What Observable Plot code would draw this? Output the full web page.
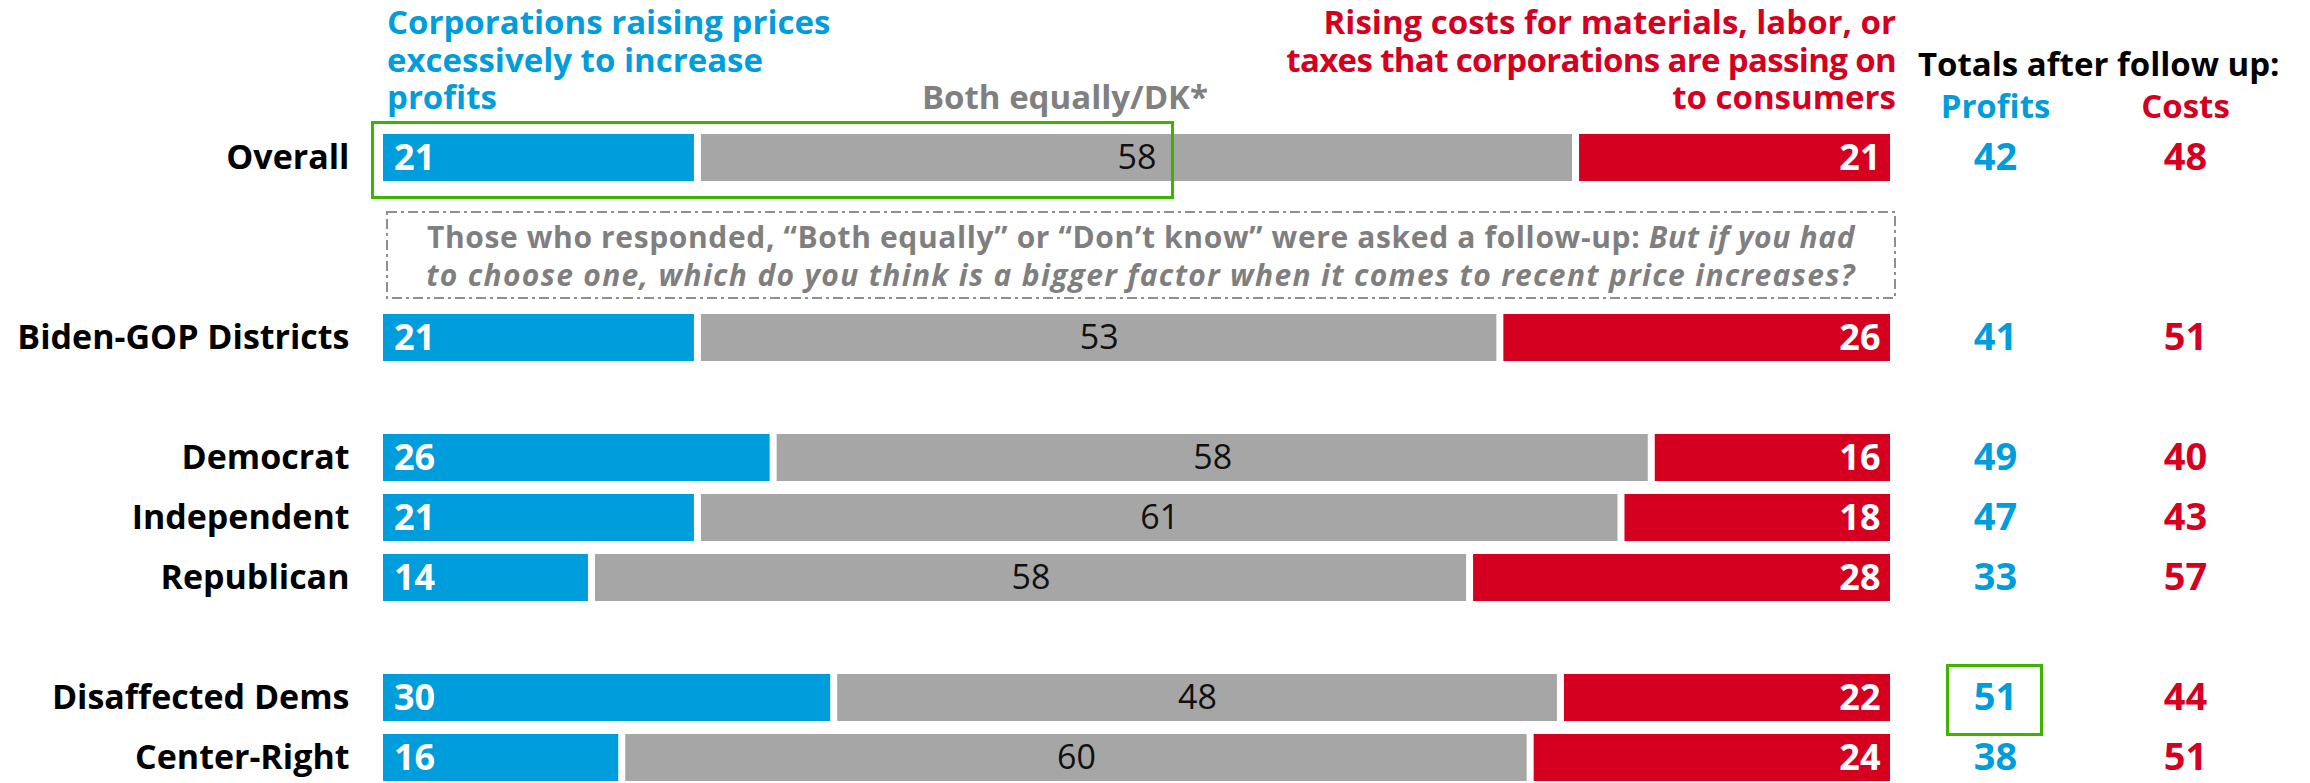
<!DOCTYPE html>
<html>
<head>
<meta charset="utf-8">
<script src="https://cdn.jsdelivr.net/npm/d3@7"></script>
<script src="https://cdn.jsdelivr.net/npm/@observablehq/plot@0.6"></script>
<style>
  body { margin: 0; background: #fff; }
  #wrap { position: relative; width: 2310px; height: 783px; overflow: hidden; font-family: "Open Sans", sans-serif; }
  .hdr { position: absolute; font-weight: 700; font-size: 33px; line-height: 37.5px; white-space: nowrap; }
  .gbox { position: absolute; box-sizing: border-box; border: 3px solid #3cb400; }
  #note { position: absolute; left: 386px; top: 211px; width: 1510px; height: 88px; }
  #note svg { position: absolute; left: 0; top: 0; }
  #noteText { position: absolute; left: 0; top: 7px; width: 1510px; text-align: center; color: #7f7f7f; font-weight: 700; font-size: 30px; line-height: 38px; white-space: nowrap; }
  #p1, #p2 { position: absolute; top: 0; }
  #p1 { left: 0; }
  #p2 { left: 1900px; }
</style>
</head>
<body>
<div id="wrap">
  <div id="p1"></div>
  <div id="p2"></div>
  <div class="hdr" style="left:387px; top:3px; color:#009ddc;">Corporations raising prices<br>excessively to increase<br>profits</div>
  <div class="hdr" style="left:1146px; width:750px; top:3px; text-align:right; color:#d5001f;">Rising costs for materials, labor, or<br><span style="letter-spacing:-0.65px">taxes that corporations are passing on</span><br>to consumers</div>
  <div class="hdr" style="left:708px; width:500px; top:78px; text-align:right; color:#808080;">Both equally/DK*</div>
  <div class="hdr" style="left:1918px; top:45px; color:#000;">Totals after follow up:</div>
  <div id="note">
    <svg width="1510" height="88"><rect x="1" y="1" width="1508" height="86" fill="none" stroke="#8f8f8f" stroke-width="2" stroke-dasharray="10 4 3 4"></rect></svg>
    <div id="noteText"><div style="letter-spacing:0.63px">Those who responded, “Both equally” or “Don’t know” were asked a follow-up: <i>But if you had</i></div><div style="letter-spacing:1.3px"><i>to choose one, which do you think is a bigger factor when it comes to recent price increases?</i></div></div>
  </div>
  <div class="gbox" style="left:371px; top:121px; width:803px; height:78px;"></div>
  <div class="gbox" style="left:1946px; top:664px; width:97px; height:72px;"></div>
</div>
<script>
// ---- data ----
const groups = ["Overall", "Biden-GOP Districts", "Democrat", "Independent", "Republican", "Disaffected Dems", "Center-Right"];
const profits = [21, 21, 26, 21, 14, 30, 16];
const both = [58, 53, 58, 61, 58, 48, 60];
const costs = [21, 26, 16, 18, 28, 22, 24];
const totalProfits = [42, 41, 49, 47, 33, 51, 38];
const totalCosts = [48, 51, 40, 43, 57, 44, 51];
const slots = ["Overall", "gap1", "gap2", "Biden-GOP Districts", "gap3", "Democrat", "Independent", "Republican", "gap4", "Disaffected Dems", "Center-Right"];
const keys = ["profits", "both", "costs"];
const totalCols = ["Profits", "Costs"];

const BLUE = "#009ddc", RED = "#d5001f", GRAY = "#a6a6a6";

const rows = groups.map((g, i) => ({group: g, profits: profits[i], both: both[i], costs: costs[i], tp: totalProfits[i], tc: totalCosts[i]}));
const long = rows.flatMap(r => keys.map(k => ({group: r.group, key: k, value: r[k]})));
const totalsLong = rows.flatMap(r => [
  {group: r.group, col: "Profits", value: r.tp},
  {group: r.group, col: "Costs", value: r.tc}
]);

const yScale = {domain: slots, paddingInner: 0.225, paddingOuter: 0.11, axis: null};

const p1 = Plot.plot({
  width: 1900, height: 791,
  marginLeft: 379.5, marginRight: 6.5, marginTop: 123.3, marginBottom: 0,
  x: {domain: [0, 100], axis: null},
  y: yScale,
  color: {domain: keys, range: [BLUE, GRAY, RED]},
  style: {fontFamily: "Open Sans", background: "transparent", overflow: "visible"},
  marks: [
    Plot.barX(long, {x: "value", y: "group", fill: "key", order: keys, insetLeft: 3.5, insetRight: 3.5}),
    Plot.axisY(groups, {tickSize: 0, tickPadding: 30.5, fontSize: 34, fontWeight: 700, fill: "#000", label: null}),
    Plot.text(rows, {y: "group", text: "profits", frameAnchor: "left", textAnchor: "start", dx: 14, fill: "#fff", fontSize: 36, fontWeight: 700}),
    Plot.text(rows, {y: "group", text: "costs", frameAnchor: "right", textAnchor: "end", dx: -13.5, fill: "#fff", fontSize: 36, fontWeight: 700}),
    Plot.text(long, Plot.stackX({x: "value", y: "group", z: "key", order: keys,
      text: d => d.key === "both" ? String(d.value) : "", fill: "#111", fontSize: 34, fontWeight: 400}))
  ]
});
document.getElementById("p1").appendChild(p1);

const p2 = Plot.plot({
  width: 410, height: 791,
  marginLeft: 0, marginRight: 30, marginTop: 123.3, marginBottom: 0,
  x: {domain: totalCols, type: "point", padding: 0.5, axis: null},
  y: yScale,
  style: {fontFamily: "Open Sans", background: "transparent", overflow: "visible"},
  marks: [
    Plot.axisX({anchor: "top", tickSize: 0, tickPadding: 6, fontSize: 33, fontWeight: 700, label: null}),
    Plot.text(totalsLong, {x: "col", y: "group", text: "value", fill: d => d.col === "Profits" ? BLUE : RED, fontSize: 38, fontWeight: 700})
  ]
});
d3.select(p2).selectAll("[aria-label='x-axis tick label'] text")
  .attr("fill", function() { return this.textContent.trim() === "Profits" ? BLUE : RED; });
document.getElementById("p2").appendChild(p2);
</script>
</body>
</html>
